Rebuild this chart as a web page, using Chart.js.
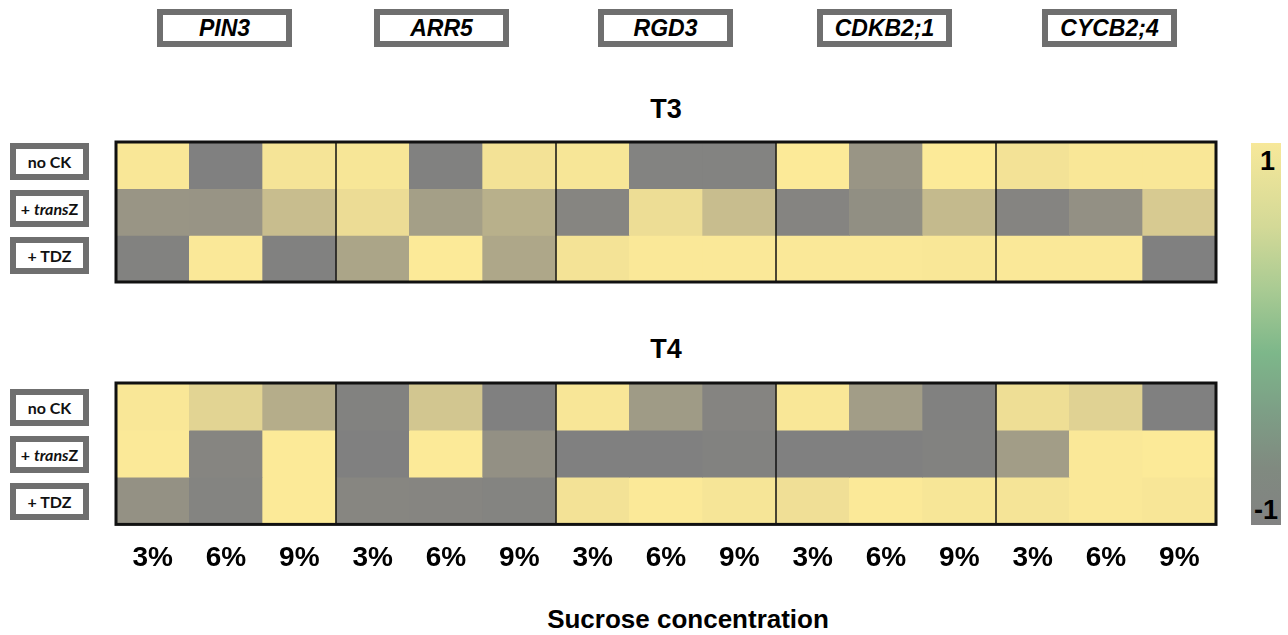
<!DOCTYPE html>
<html>
<head>
<meta charset="utf-8">
<script src="https://cdn.jsdelivr.net/npm/chart.js@4.4.0/dist/chart.umd.min.js"></script>
<style>
    body {
        margin: 0;
        width: 1288px;
        height: 635px;
        position: relative;
        overflow: hidden;
        background: #fff;
        font-family: "Liberation Sans", Arial, sans-serif;
    }
    .gene {
        position: absolute;
        top: 9px;
        width: 123px;
        height: 26px;
        border: 6px solid #6f6f6f;
        background: #fff;
        font-weight: bold;
        font-style: italic;
        font-size: 23px;
        line-height: 26px;
        text-align: center;
        color: #000;
    }
    .row-label {
        position: absolute;
        left: 10px;
        width: 67px;
        height: 25px;
        border: 6px solid #6f6f6f;
        background: #fff;
        font-family: Lato, "Open Sans", sans-serif;
        font-weight: bold;
        font-size: 16px;
        line-height: 25px;
        text-align: center;
        color: #111;
        white-space: nowrap;
    }
    .panel-title {
        position: absolute;
        left: 116px;
        width: 1100px;
        text-align: center;
        font-weight: bold;
        font-size: 27px;
        line-height: 30px;
    }
    .heat {
        position: absolute;
        left: 114px;
    }
    .colorbar {
        position: absolute;
        left: 1251px;
        top: 143px;
        width: 30px;
        height: 382px;
        background: linear-gradient(to bottom, #f7e89a 0%, #d3d997 22%, #aacb93 38%, #7db78a 55%, #7d9f86 70%, #808a80 85%, #828282 100%);
    }
    .cb-label {
        position: absolute;
        font-weight: bold;
        font-size: 27px;
        line-height: 30px;
    }
    .x-title {
        position: absolute;
        left: 0;
        width: 1376px;
        top: 604px;
        text-align: center;
        font-weight: bold;
        font-size: 26px;
        line-height: 30px;
    }
</style>
</head>
<body>

<div id="genes"></div>
<div id="rows"></div>

<div class="panel-title" style="top:94px">T3</div>
<div class="panel-title" style="top:334px">T4</div>

<canvas id="t3Chart" class="heat" style="top:140px"></canvas>
<canvas id="t4Chart" class="heat" style="top:381px"></canvas>

<div class="colorbar"></div>
<div class="cb-label" style="left:1260px;top:146px">1</div>
<div class="cb-label" style="left:1254px;top:495px">-1</div>

<div class="x-title">Sucrose concentration</div>

<script>
// categories
const genes = ['PIN3', 'ARR5', 'RGD3', 'CDKB2;1', 'CYCB2;4'];
const sucrose = ['3%', '6%', '9%'];
const treatments = ['no CK', '+ <i>trans</i>Z', '+ TDZ'];

// scaled expression, one value per gene x sucrose column (-1 .. 1)
const t3NoCK    = [0.95, -1, 0.88,   0.92, -0.98, 0.85,   0.92, -0.95, -0.95,   1, -0.6, 1,         0.85, 0.95, 0.95];
const t3TransZ  = [-0.6, -0.62, 0.16, 0.74, -0.42, -0.1,  -0.9, 0.75, 0.16,     -0.92, -0.72, 0.1,  -0.92, -0.7, 0.4];
const t3TDZ     = [-0.97, 0.96, -0.98, -0.3, 1, -0.26,    0.87, 0.97, 0.97,     0.97, 0.97, 0.95,   0.97, 0.97, -1];

const t4NoCK    = [0.95, 0.58, -0.15, -0.97, 0.33, -1,    0.93, -0.5, -0.92,    0.95, -0.45, -0.98, 0.78, 0.55, -1];
const t4TransZ  = [0.98, -0.9, 1,     -1, 1, -0.7,        -1, -1, -0.97,        -1, -1, -0.97,      -0.45, 0.97, 1];
const t4TDZ     = [-0.67, -0.93, 1,   -0.88, -0.9, -0.93, 0.85, 0.98, 0.9,      0.8, 0.98, 0.92,    0.88, 0.97, 0.93];

// column labels: every sucrose level repeated per gene
const columns = [];
genes.forEach(function () { sucrose.forEach(function (s) { columns.push(s); }); });

const HIGH = [252, 234, 152];
const LOW = [128, 128, 128];

function valueColor(v) {
    const t = (v + 1) / 2;
    const c = LOW.map(function (lo, i) { return Math.round(lo + (HIGH[i] - lo) * t); });
    return 'rgb(' + c.join(',') + ')';
}

// gene boxes and row labels
const geneLeft = [157, 374, 598, 817, 1042];
const genesDiv = document.getElementById('genes');
genes.forEach(function (g, i) {
    const d = document.createElement('div');
    d.className = 'gene';
    d.style.left = geneLeft[i] + 'px';
    d.textContent = g;
    genesDiv.appendChild(d);
});

const rowTops = [143, 190, 237, 389, 436, 483];
const rowsDiv = document.getElementById('rows');
rowTops.forEach(function (top, i) {
    const d = document.createElement('div');
    d.className = 'row-label';
    d.style.top = top + 'px';
    d.innerHTML = treatments[i % 3];
    rowsDiv.appendChild(d);
});

// frame and gene separators
const framePlugin = {
    id: 'frame',
    afterDatasetsDraw: function (chart) {
        const ctx = chart.ctx;
        const area = chart.chartArea;
        const x = chart.scales.x;
        ctx.save();
        ctx.strokeStyle = '#111';
        ctx.lineWidth = 1.5;
        for (let g = 1; g < genes.length; g++) {
            const px = (x.getPixelForValue(g * 3 - 1) + x.getPixelForValue(g * 3)) / 2;
            ctx.beginPath();
            ctx.moveTo(px, area.top);
            ctx.lineTo(px, area.bottom);
            ctx.stroke();
        }
        ctx.lineWidth = 3;
        ctx.strokeRect(area.left, area.top, area.right - area.left, area.bottom - area.top);
        ctx.restore();
    }
};

function createHeatmap(canvasId, rows, showTicks, height) {
    const canvas = document.getElementById(canvasId);
    canvas.width = 1104;
    canvas.height = height;
    canvas.style.width = '1104px';
    canvas.style.height = height + 'px';

    const datasets = rows.map(function (values, r) {
        return {
            data: values.map(function () { return [r, r + 1]; }),
            backgroundColor: values.map(valueColor),
            borderWidth: 0,
            grouped: false,
            barPercentage: 1,
            categoryPercentage: 1
        };
    });

    new Chart(canvas.getContext('2d'), {
        type: 'bar',
        data: { labels: columns, datasets: datasets },
        options: {
            responsive: false,
            animation: false,
            layout: { padding: { top: 2, left: 2, right: 2, bottom: showTicks ? 0 : 2 } },
            scales: {
                x: {
                    display: showTicks,
                    grid: { display: false, drawTicks: false },
                    border: { display: false },
                    ticks: {
                        padding: 17,
                        color: '#000',
                        font: { family: '"Liberation Sans", Arial, sans-serif', size: 28, weight: 'bold' },
                        autoSkip: false,
                        maxRotation: 0
                    }
                },
                y: {
                    display: false,
                    min: 0,
                    max: 3,
                    reverse: true
                }
            },
            plugins: {
                legend: { display: false },
                tooltip: { enabled: false }
            }
        },
        plugins: [framePlugin]
    });
}

createHeatmap('t3Chart', [t3NoCK, t3TransZ, t3TDZ], false, 144);
createHeatmap('t4Chart', [t4NoCK, t4TransZ, t4TDZ], true, 211);
</script>
</body>
</html>
